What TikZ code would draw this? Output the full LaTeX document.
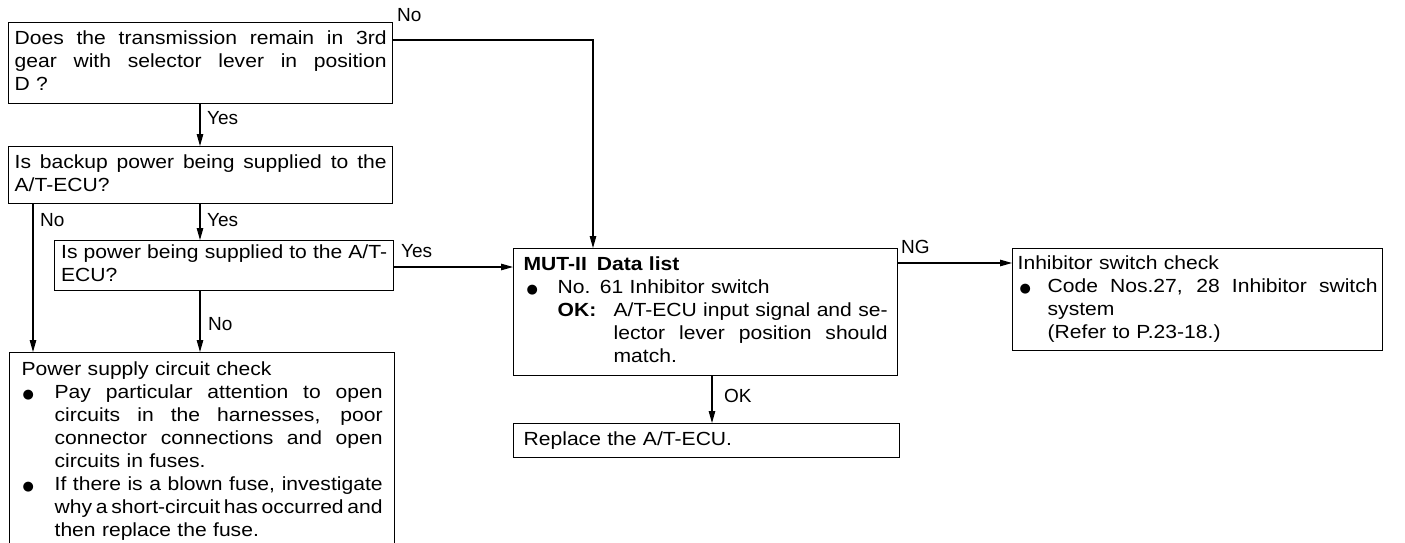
\documentclass[tikz,border=0pt]{standalone}
\usepackage{fontspec}
\setmainfont{Liberation Sans}
\newfontfamily\boxfont{Liberation Sans}[FakeStretch=1.11]
\newfontfamily\symfont{DejaVu Sans}
\usetikzlibrary{arrows.meta}
\newcommand{\boxtext}{\boxfont\fontsize{19}{23}\selectfont}
\newcommand{\bsym}{{\symfont\fontsize{13}{13}\selectfont ●}}
\newcommand{\wsp}{\spaceskip=.278em plus 1em minus .08em\relax\xspaceskip=\spaceskip}
% justified full line
\newcommand{\fullJ}[1]{\makebox[\linewidth][s]{\wsp\strut#1}}
% indented justified line
\newcommand{\indJ}[2]{\strut\hspace*{#1}\makebox[\dimexpr\linewidth-#1\relax][s]{\wsp#2}}
% indented ragged line
\newcommand{\indR}[2]{\strut\hspace*{#1}#2}
% bullet + justified text
\newcommand{\bulJ}[3]{\strut\makebox[#1][l]{\hspace*{#2}\bsym}\makebox[\dimexpr\linewidth-#1\relax][s]{\wsp#3}}
% bullet + ragged text
\newcommand{\bulR}[3]{\strut\makebox[#1][l]{\hspace*{#2}\bsym}#3}
\begin{document}
\begin{tikzpicture}[x=1pt,y=-1pt,
  box/.style={draw, line width=1.3pt, anchor=north west, inner ysep=0pt,
    font=\boxtext},
  lbl/.style={anchor=base west, inner sep=0pt, font=\fontsize{19}{21}\selectfont},
  arr/.style={line width=1.1pt, -{Triangle[length=12pt,width=6.5pt]}}]
\useasboundingbox (0,0) rectangle (1405,542);
\clip (0,0) rectangle (1405,542);

% boxes
\node[box, minimum width=384pt, minimum height=81pt, text width=372pt, inner xsep=6pt]
  (b1) at (8,22) {\fullJ{Does the transmission remain in 3rd}\\
  \fullJ{gear with selector lever in position}\\
  \strut D ?};
\node[box, minimum width=384pt, minimum height=57pt, text width=372pt, inner xsep=6pt]
  (b2) at (8,146) {\fullJ{Is backup power being supplied to the}\\
  \strut A/T-ECU?};
\node[box, minimum width=339pt, minimum height=50pt, text width=326pt, inner xsep=6.5pt]
  (b3) at (54,240) {\fullJ{Is power being supplied to the A/T-}\\
  \strut ECU?};
\node[box, minimum width=384pt, minimum height=127pt, text width=364pt, inner xsep=10pt]
  (b4) at (513,248) {\strut\textbf{MUT-II\hspace{10pt}Data list}\\
  \bulR{34pt}{3pt}{No. 61 Inhibitor switch}\\
  \strut\hspace*{34pt}\makebox[56pt][l]{\textbf{OK:}}\makebox[\dimexpr\linewidth-90pt\relax][s]{\wsp A/T-ECU input signal and se-}\\
  \indJ{90pt}{lector lever position should}\\
  \indR{90pt}{match.}};
\node[box, minimum width=385pt, minimum height=198pt, text width=361pt, inner xsep=12pt]
  (b5) at (9,352) {\strut Power supply circuit check\\
  \bulJ{33pt}{1pt}{Pay particular attention to open}\\
  \indJ{33pt}{circuits in the harnesses, poor}\\
  \indJ{33pt}{connector connections and open}\\
  \indR{33pt}{circuits in fuses.}\\
  \bulJ{33pt}{1pt}{If there is a blown fuse, investigate}\\
  \indJ{33pt}{\spaceskip=1.5pt plus 10pt minus 1pt why a short-circuit has occurred and}\\
  \indR{33pt}{then replace the fuse.}};
\node[box, minimum width=386pt, minimum height=34pt, text width=366pt, inner xsep=10pt]
  (b6) at (513,423) {\strut Replace the A/T-ECU.};
\node[box, minimum width=370pt, minimum height=102pt, text width=360pt, inner xsep=5pt]
  (b7) at (1012,248) {\strut Inhibitor switch check\\
  \bulJ{30pt}{2pt}{Code Nos.27, 28 Inhibitor switch}\\
  \indR{30pt}{system}\\
  \indR{30pt}{(Refer to P.23-18.)}};

% connector columns / rows
\coordinate (xA) at (200,0);
\coordinate (xL) at (33,0);
\coordinate (xM) at (593,0);
\coordinate (xO) at (712,0);
\coordinate (yN) at (0,40);
\coordinate (yY) at (0,267);
\coordinate (yG) at (0,263);

% connectors
\draw[arr] (b1.south -| xA) -- (b2.north -| xA);
\draw[arr] (b2.south -| xL) -- (b5.north -| xL);
\draw[arr] (b2.south -| xA) -- (b3.north -| xA);
\draw[arr] (b3.south -| xA) -- (b5.north -| xA);
\draw[arr] (b1.east |- yN) -| (b4.north -| xM);
\draw[arr] (b3.east |- yY) -- (b4.west |- yY);
\draw[arr] (b4.east |- yG) -- (b7.west |- yG);
\draw[arr] (b4.south -| xO) -- (b6.north -| xO);

% labels
\node[lbl] (lNo1) at (397,21) {No};
\node[lbl] (lYes1) at (207,124) {Yes};
\node[lbl] (lNo2) at (40,226) {No};
\node[lbl] (lYes2) at (207,226) {Yes};
\node[lbl] (lNo3) at (208,330) {No};
\node[lbl] (lYes3) at (401,257) {Yes};
\node[lbl] (lNG) at (901,253) {NG};
\node[lbl] (lOK) at (724,402) {OK};
\end{tikzpicture}
\end{document}
